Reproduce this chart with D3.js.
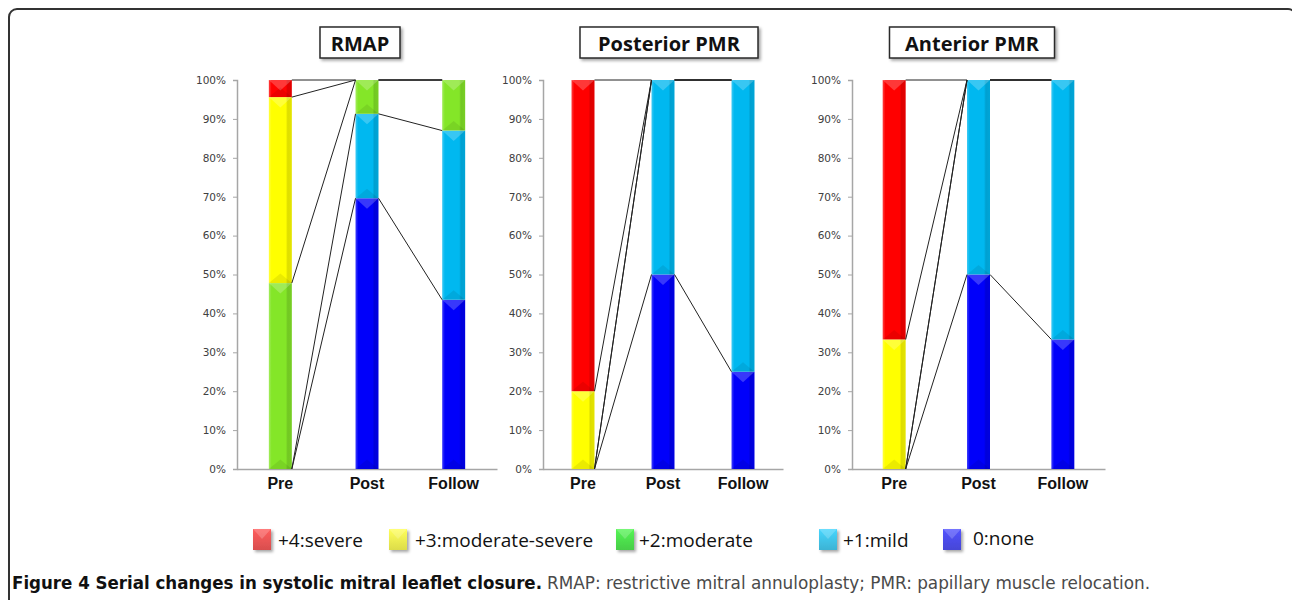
<!DOCTYPE html>
<html>
<head>
<meta charset="utf-8">
<script src="https://cdn.jsdelivr.net/npm/d3@7"></script>
<style>
  body { margin: 0; background: #fff; }
  svg { display: block; }
</style>
</head>
<body>
<div id="chart"></div>
<script>
// stages on the x axis
const stages = ['Pre', 'Post', 'Follow'];
// grades, bottom of the stack first
const grades = ['0:none', '+1:mild', '+2:moderate', '+3:moderate-severe', '+4:severe'];
const legendOrder = ['+4:severe', '+3:moderate-severe', '+2:moderate', '+1:mild', '0:none'];
const panelTitles = ['RMAP', 'Posterior PMR', 'Anterior PMR'];
const yTicks = [0, 10, 20, 30, 40, 50, 60, 70, 80, 90, 100];

// percent per grade (rows) for Pre / Post / Follow (cols)
const rmap = [
  [0, 69.6, 43.5],
  [0, 21.7, 43.5],
  [47.8, 8.7, 13.0],
  [47.8, 0, 0],
  [4.4, 0, 0]
];
const posteriorPmr = [
  [0, 50, 25],
  [0, 50, 75],
  [0, 0, 0],
  [20, 0, 0],
  [80, 0, 0]
];
const anteriorPmr = [
  [0, 50, 33.3],
  [0, 50, 66.7],
  [0, 0, 0],
  [33.3, 0, 0],
  [66.7, 0, 0]
];
const panelData = [rmap, posteriorPmr, anteriorPmr];

const captionBold = 'Figure 4 Serial changes in systolic mitral leaflet closure.';
const captionText = 'RMAP: restrictive mitral annuloplasty; PMR: papillary muscle relocation.';

// colours
const barColour = {
  '0:none': '#0000fa', '+1:mild': '#00b8f0', '+2:moderate': '#84e628',
  '+3:moderate-severe': '#ffff00', '+4:severe': '#ff0000'
};
const legendColour = {
  '0:none': '#4b4be6', '+1:mild': '#40c0e4', '+2:moderate': '#4cdc4c',
  '+3:moderate-severe': '#ecec50', '+4:severe': '#e85454'
};

const width = 1292, height = 600;
const svg = d3.select('#chart').append('svg')
  .attr('width', width).attr('height', height);

const defs = svg.append('defs');
const shadow = defs.append('filter').attr('id', 'shadow')
  .attr('x', '-20%').attr('y', '-30%').attr('width', '150%').attr('height', '180%');
shadow.append('feDropShadow').attr('dx', 2).attr('dy', 2)
  .attr('stdDeviation', 1.5).attr('flood-color', '#000').attr('flood-opacity', 0.35);

// bevel-ish horizontal gradients
grades.forEach((g, i) => {
  const c = d3.color(barColour[g]);
  const grad = defs.append('linearGradient').attr('id', 'bar' + i)
    .attr('x1', 0).attr('x2', 1).attr('y1', 0).attr('y2', 0);
  grad.append('stop').attr('offset', 0).attr('stop-color', d3.interpolateRgb(c, '#fff')(0.25));
  grad.append('stop').attr('offset', 0.12).attr('stop-color', c.formatHex());
  grad.append('stop').attr('offset', 0.74).attr('stop-color', c.formatHex());
  grad.append('stop').attr('offset', 0.82).attr('stop-color', c.darker(0.4).formatHex());
  grad.append('stop').attr('offset', 1).attr('stop-color', c.darker(0.3).formatHex());
  const lg = defs.append('linearGradient').attr('id', 'leg' + i)
    .attr('x1', 0).attr('x2', 0).attr('y1', 0).attr('y2', 1);
  const lc = d3.color(legendColour[g]);
  lg.append('stop').attr('offset', 0).attr('stop-color', lc.brighter(0.3).formatHex());
  lg.append('stop').attr('offset', 1).attr('stop-color', lc.darker(0.2).formatHex());
});

// outer frame
svg.append('rect')
  .attr('x', 9).attr('y', 9).attr('width', 1287).attr('height', 700)
  .attr('rx', 8).attr('fill', 'none').attr('stroke', '#333').attr('stroke-width', 2);

const y = d3.scaleLinear().domain([0, 100]).range([469, 80]);
const axisLeftX = [237, 543, 852];
const axisRightX = [497, 783, 1105];
const titleX = [360, 669, 972];
const titleW = [80, 178, 165];
const barW = 23;

panelData.forEach((data, p) => {
  const g = svg.append('g');
  const x = d3.scaleBand().domain(stages).range([axisLeftX[p], axisRightX[p]]);
  const cx = s => x(s) + x.bandwidth() / 2;

  // title box
  g.append('rect')
    .attr('x', titleX[p] - titleW[p] / 2).attr('y', 27)
    .attr('width', titleW[p]).attr('height', 31)
    .attr('fill', '#fff').attr('stroke', '#2a2a2a').attr('stroke-width', 1.5)
    .attr('filter', 'url(#shadow)');
  g.append('text')
    .attr('x', titleX[p]).attr('y', 43)
    .attr('text-anchor', 'middle').attr('dominant-baseline', 'central')
    .style('font-family', '"Open Sans", sans-serif').style('font-weight', 700)
    .style('font-size', '20px').attr('fill', '#111')
    .text(panelTitles[p]);

  // y axis
  const yAxis = g.append('g')
    .attr('transform', `translate(${axisLeftX[p]},0)`)
    .call(d3.axisLeft(y).tickValues(yTicks).tickFormat(d => d + '%').tickSize(4).tickPadding(7));
  yAxis.select('.domain').attr('stroke', '#a6a6a6').attr('stroke-width', 1.5);
  yAxis.selectAll('.tick line').attr('stroke', '#a6a6a6');
  yAxis.selectAll('text')
    .style('font-family', '"DejaVu Sans", sans-serif').style('font-size', '10.5px')
    .attr('fill', '#404040');

  // x axis
  const xAxis = g.append('g')
    .attr('transform', `translate(0,${y(0)})`)
    .call(d3.axisBottom(x).tickSize(0).tickPadding(9));
  xAxis.select('.domain').attr('stroke', '#a6a6a6').attr('stroke-width', 1.5);
  xAxis.selectAll('text')
    .style('font-family', '"Liberation Sans", Arial, sans-serif').style('font-weight', 700)
    .style('font-size', '16px').attr('fill', '#111');

  // stacked segments
  const stacked = stages.map((s, j) => {
    let acc = 0;
    return grades.map((gr, i) => {
      const v = data[i][j];
      const seg = { stage: s, grade: i, y0: acc, y1: acc + v };
      acc += v;
      return seg;
    });
  });

  const segs = stacked.flat().filter(d => d.y1 - d.y0 > 0.01);
  g.selectAll('rect.seg').data(segs).enter().append('rect')
    .attr('class', 'seg')
    .attr('x', d => cx(d.stage) - barW / 2)
    .attr('y', d => y(d.y1))
    .attr('width', barW)
    .attr('height', d => y(d.y0) - y(d.y1))
    .attr('fill', d => `url(#bar${d.grade})`);

  // top and bottom facets
  g.selectAll('path.top').data(segs.filter(d => y(d.y0) - y(d.y1) > 14)).enter().append('path')
    .attr('d', d => {
      const x0 = cx(d.stage) - barW / 2, x1 = x0 + barW, yt = y(d.y1);
      return `M${x0},${yt}L${x1},${yt}L${x0 + barW / 2},${yt + barW / 2.2}Z`;
    })
    .attr('fill', '#fff').attr('opacity', 0.22);
  g.selectAll('path.bot').data(segs.filter(d => y(d.y0) - y(d.y1) > 14)).enter().append('path')
    .attr('d', d => {
      const x0 = cx(d.stage) - barW / 2, x1 = x0 + barW, yb = y(d.y0);
      return `M${x0},${yb}L${x1},${yb}L${x0 + barW / 2},${yb - barW / 2.4}Z`;
    })
    .attr('fill', '#000').attr('opacity', 0.08);

  // series lines between neighbouring bars
  const links = [];
  for (let j = 0; j < stages.length - 1; j++) {
    grades.forEach((gr, i) => {
      links.push({ from: stacked[j][i], to: stacked[j + 1][i] });
    });
  }
  g.selectAll('line.link').data(links).enter().append('line')
    .attr('x1', d => cx(d.from.stage) + barW / 2)
    .attr('y1', d => y(d.from.y1))
    .attr('x2', d => cx(d.to.stage) - barW / 2)
    .attr('y2', d => y(d.to.y1))
    .attr('stroke', '#222').attr('stroke-width', 1);
});

// legend
const legX = [253, 389, 616, 819, 943];
const legTextX = [278, 415, 639, 843, 973];
const legend = svg.append('g');
legendOrder.forEach((name, k) => {
  const i = grades.indexOf(name);
  legend.append('rect')
    .attr('x', legX[k]).attr('y', 529).attr('width', 18).attr('height', 21)
    .attr('fill', `url(#leg${i})`).attr('filter', 'url(#shadow)');
  legend.append('path')
    .attr('d', `M${legX[k]},529L${legX[k] + 18},529L${legX[k] + 9},539Z`)
    .attr('fill', '#fff').attr('opacity', 0.2);
  legend.append('text')
    .attr('x', legTextX[k]).attr('y', name === '0:none' ? 538 : 540)
    .attr('dominant-baseline', 'central')
    .style('font-family', '"Open Sans", sans-serif').style('font-size', '19px')
    .attr('fill', '#111')
    .text(name);
});

// caption
svg.append('text')
  .attr('x', 12).attr('y', 589)
  .attr('textLength', 530).attr('lengthAdjust', 'spacingAndGlyphs')
  .style('font-family', '"DejaVu Sans Condensed", "Liberation Sans Narrow", sans-serif')
  .style('font-weight', 700).style('font-size', '17px').attr('fill', '#111')
  .text(captionBold);
svg.append('text')
  .attr('x', 547).attr('y', 589)
  .attr('textLength', 603).attr('lengthAdjust', 'spacingAndGlyphs')
  .style('font-family', '"DejaVu Sans Condensed", "Liberation Sans Narrow", sans-serif')
  .style('font-size', '17px').attr('fill', '#4a4a4a')
  .text(captionText);
</script>
</body>
</html>
